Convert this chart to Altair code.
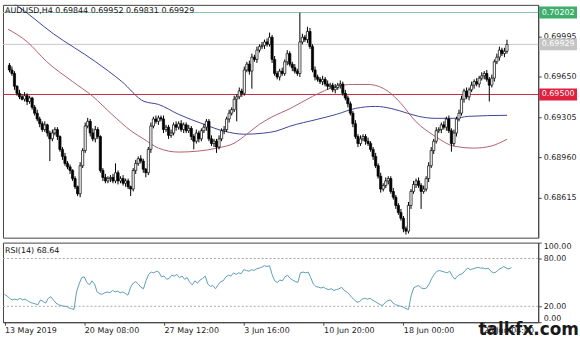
import altair as alt
import pandas as pd

# ---------------- data ----------------
closes = [
    0.6971, 0.6968, 0.6957, 0.6951, 0.6948, 0.6946, 0.6949, 0.6944, 0.6947, 0.6939,
    0.6934, 0.6929, 0.6925, 0.6920, 0.6924, 0.6917, 0.6912, 0.6917, 0.6920, 0.6914,
    0.6903, 0.6897, 0.6891, 0.6888, 0.6885, 0.6878, 0.6871, 0.6865, 0.6889, 0.6902,
    0.6923, 0.6927, 0.6917, 0.6912, 0.6920, 0.6914, 0.6885, 0.6879, 0.6876, 0.6878,
    0.6879, 0.6876, 0.6883, 0.6876, 0.6878, 0.6874, 0.6876, 0.6871, 0.6869, 0.6885,
    0.6891, 0.6895, 0.6893, 0.6886, 0.6883, 0.6903, 0.6923, 0.6929, 0.6927, 0.6930,
    0.6929, 0.6920, 0.6922, 0.6915, 0.6917, 0.6924, 0.6922, 0.6925, 0.6920, 0.6924,
    0.6919, 0.6921, 0.6914, 0.6910, 0.6917, 0.6912, 0.6919, 0.6922, 0.6927, 0.6912,
    0.6908, 0.6910, 0.6905, 0.6912, 0.6919, 0.6920, 0.6929, 0.6934, 0.6937, 0.6946,
    0.6948, 0.6953, 0.6951, 0.6971, 0.6976, 0.6970, 0.6982, 0.6980, 0.6988, 0.6991,
    0.6992, 0.6995, 0.6993, 0.6999, 0.6980, 0.6968, 0.6965, 0.6970, 0.6968, 0.6978,
    0.6985, 0.6976, 0.6973, 0.6970, 0.6968, 0.6995, 0.6999, 0.6997, 0.7004, 0.6991,
    0.6971, 0.6965, 0.6963, 0.6961, 0.6963, 0.6959, 0.6957, 0.6958, 0.6954, 0.6956,
    0.6958, 0.6959, 0.6951, 0.6947, 0.6942, 0.6934, 0.6925, 0.6914, 0.6908, 0.6912,
    0.6914, 0.6910, 0.6908, 0.6903, 0.6897, 0.6889, 0.6880, 0.6869, 0.6872, 0.6876,
    0.6878, 0.6867, 0.6862, 0.6855, 0.6849, 0.6844, 0.6835, 0.6833, 0.6855, 0.6867,
    0.6873, 0.6876, 0.6872, 0.6867, 0.6869, 0.6878, 0.6889, 0.6902, 0.6910, 0.6919,
    0.6920, 0.6924, 0.6922, 0.6929, 0.6919, 0.6908, 0.6917, 0.6929, 0.6934, 0.6946,
    0.6953, 0.6948, 0.6954, 0.6958, 0.6961, 0.6959, 0.6964, 0.6966, 0.6968, 0.6963,
    0.6958, 0.6964, 0.6978, 0.6982, 0.6988, 0.6985, 0.6987, 0.69929,
]
first_open = 0.6975

# wick lengths in pips (0.0001)
wick_up = [
    2, 3, 2, 1, 3, 2, 3, 2, 2, 1, 2, 3, 2, 2, 3, 1, 2, 3, 2, 2,
    1, 2, 3, 2, 2, 1, 2, 1, 3, 2, 3, 3, 2, 4, 3, 2, 1, 2, 3, 2,
    2, 3, 8, 2, 2, 3, 2, 2, 1, 2, 3, 2, 3, 2, 1, 2, 3, 2, 3, 2,
    2, 3, 2, 2, 3, 2, 3, 2, 3, 2, 2, 3, 2, 2, 3, 2, 2, 3, 2, 2,
    3, 2, 2, 3, 2, 3, 2, 3, 2, 3, 2, 3, 2, 3, 2, 3, 3, 2, 3, 2,
    3, 2, 3, 4, 2, 3, 2, 2, 3, 2, 3, 2, 2, 3, 2, 25, 3, 2, 4, 3,
    2, 3, 2, 2, 3, 2, 3, 2, 2, 3, 2, 3, 2, 3, 2, 2, 2, 3, 2, 3,
    2, 2, 3, 2, 2, 3, 2, 3, 2, 3, 2, 2, 3, 2, 2, 3, 2, 2, 3, 2,
    3, 2, 3, 2, 3, 2, 3, 3, 2, 3, 2, 2, 3, 2, 3, 2, 3, 2, 3, 3,
    2, 3, 2, 3, 2, 3, 2, 3, 2, 3, 2, 3, 2, 3, 3, 2, 3, 4,
]
wick_dn = [
    2, 2, 3, 2, 2, 1, 2, 3, 2, 2, 2, 2, 3, 2, 2, 3, 19, 2, 2, 3,
    2, 3, 2, 2, 3, 2, 2, 2, 3, 2, 2, 2, 3, 2, 3, 2, 2, 3, 2, 2,
    3, 2, 2, 3, 2, 2, 3, 2, 6, 2, 3, 2, 2, 3, 4, 2, 3, 2, 2, 3,
    2, 3, 2, 3, 2, 2, 3, 2, 2, 3, 2, 2, 3, 7, 2, 3, 2, 2, 3, 2,
    2, 3, 5, 2, 2, 3, 2, 3, 2, 2, 19, 2, 3, 2, 2, 3, 15, 2, 3, 2,
    2, 3, 2, 2, 3, 2, 2, 3, 2, 2, 3, 2, 3, 2, 2, 3, 2, 2, 3, 2,
    2, 3, 2, 2, 3, 2, 3, 2, 2, 3, 2, 3, 2, 2, 3, 2, 3, 2, 3, 2,
    2, 3, 2, 2, 3, 2, 2, 3, 2, 2, 3, 2, 2, 3, 2, 2, 3, 3, 2, 3,
    2, 3, 2, 15, 2, 2, 3, 2, 3, 2, 2, 3, 2, 3, 2, 7, 2, 3, 2, 2,
    3, 2, 3, 2, 3, 2, 3, 2, 3, 2, 14, 2, 3, 2, 3, 2, 3, 2,
]

rsi_values = [
    35, 33, 30, 28, 29, 28, 30, 28, 29, 27, 25, 24, 23, 22, 28, 26, 24, 30, 32, 28,
    24, 22, 21, 20, 20, 18, 17, 16, 38, 48, 56, 57, 50, 47, 52, 48, 38, 36, 35, 37,
    38, 37, 40, 38, 39, 37, 38, 36, 34, 44, 49, 51, 48, 44, 42, 52, 60, 63, 62, 64,
    63, 57, 58, 54, 55, 59, 58, 60, 56, 58, 54, 56, 50, 47, 52, 49, 53, 55, 58, 48,
    45, 46, 42, 47, 51, 52, 57, 59, 58, 62, 60, 62, 61, 66, 65, 64, 66, 65, 67, 68,
    69, 71, 70, 71, 60, 52, 50, 53, 52, 57, 59, 55, 53, 51, 50, 62, 63, 62, 63, 56,
    48, 45, 44, 43, 44, 42, 41, 42, 40, 41, 42, 44, 40, 38, 35, 31, 28, 25, 26, 29,
    30, 29, 30, 28, 26, 24, 22, 21, 25, 27, 28, 24, 22, 21, 20, 19, 17, 16, 33, 43,
    45, 46, 43, 42, 43, 48, 55, 60, 64, 65, 64, 63, 62, 64, 58, 54, 58, 60, 61, 65,
    68, 66, 67, 68, 69, 68, 68, 67, 68, 64, 62, 63, 66, 68, 70, 68, 67, 68.64,
]

blue_idx = [0, 2.3, 17.4, 34, 44.5, 53.3, 59, 67, 77, 85, 93, 100.5, 105.5, 111,
            122, 129.5, 137, 145, 151, 157.7, 162, 168.5, 176, 181.7, 197]
blue_val = [0.7030, 0.7027, 0.7002, 0.69782, 0.69611, 0.69441, 0.69415, 0.6933,
            0.69245, 0.69186, 0.6916, 0.69169, 0.69186, 0.69228, 0.69288, 0.6933,
            0.69381, 0.69398, 0.69381, 0.69339, 0.69313, 0.69296, 0.69296, 0.69313,
            0.69322]
red_idx = [-0.6, 7, 14.7, 25, 33, 40.6, 48.3, 53.3, 59, 67, 74.6, 82.3, 89, 94, 99,
           104.4, 111.3, 120, 129.5, 135.7, 142, 150, 155, 160.8, 168.5, 176, 184,
           190.6, 197]
red_val = [0.7006, 0.69952, 0.69782, 0.69611, 0.69484, 0.6933, 0.69186, 0.69117,
           0.69041, 0.69007, 0.69015, 0.69041, 0.69083, 0.6916, 0.69245, 0.69313,
           0.69381, 0.69484, 0.69569, 0.69586, 0.69586, 0.69526, 0.69424, 0.69271,
           0.69143, 0.69058, 0.69041, 0.69058, 0.69117]

level_prices = [0.70202, 0.69929, 0.69500]
level_kinds = ["high", "bid", "level"]

price_ticks = [0.68615, 0.68960, 0.69305, 0.69650, 0.69995]
rsi_ticks = [0, 20, 80, 100]
rsi_levels = [20, 80]

time_tick_idx = [0, 31, 62, 93, 124, 155, 186]
time_tick_labels = ["13 May 2019", "20 May 08:00", "27 May 12:00", "3 Jun 16:00",
                    "10 Jun 20:00", "18 Jun 00:00", "25 Jun 04:00"]

header = "AUDUSD,H4  0.69844 0.69952 0.69831 0.69929"
rsi_title = "RSI(14) 68.64"

# ---------------- tables ----------------
opens = [first_open] + closes[:-1]
n = len(closes)
candles = pd.DataFrame({
    "i": list(range(n)),
    "open": opens,
    "close": closes,
})
candles["high"] = [max(o, c) + u * 0.0001 for o, c, u in zip(opens, closes, wick_up)]
candles["low"] = [min(o, c) - d * 0.0001 for o, c, d in zip(opens, closes, wick_dn)]
candles["dir"] = ["up" if c >= o else "down" for o, c in zip(opens, closes)]

rsi_df = pd.DataFrame({"i": list(range(n)), "rsi": rsi_values})
blue_df = pd.DataFrame({"i": blue_idx, "v": blue_val})
red_df = pd.DataFrame({"i": red_idx, "v": red_val})
levels_df = pd.DataFrame({"p": level_prices, "kind": level_kinds,
                          "txt": [f"{p:.5f}" for p in level_prices]})
rsi_lv_df = pd.DataFrame({"r": rsi_levels})

FONT = "DejaVu Sans"
W = 538
H_MAIN = 234
H_RSI = 80

xscale = alt.Scale(domain=[-0.58, 207.4], nice=False, zero=False)
yscale = alt.Scale(domain=[0.682742, 0.702676], nice=False, zero=False)

yaxis = alt.Axis(orient="right", values=price_ticks, format=".5f", title=None,
                 labelFont=FONT, labelFontSize=8, labelColor="#222",
                 tickColor="#444", tickSize=3, domainColor="#444", labelPadding=2,
                 grid=False)


def X(field="i"):
    return alt.X(f"{field}:Q", scale=xscale, axis=None)


def Y(field):
    return alt.Y(f"{field}:Q", scale=yscale, axis=yaxis)


kind_color = alt.Scale(domain=["high", "bid", "level"],
                       range=["#8fbfae", "#c9c9c9", "#cc2b41"])
box_color = alt.Scale(domain=["high", "bid", "level"],
                      range=["#3dae6c", "#c4c4c4", "#e0203c"])

base_c = alt.Chart(candles)

hlines = alt.Chart(levels_df).mark_rule(strokeWidth=1).encode(
    y=Y("p"),
    color=alt.Color("kind:N", scale=kind_color, legend=None),
)

blue_line = alt.Chart(blue_df).mark_line(color="#3c4597", strokeWidth=1,
                                         interpolate="monotone", clip=True).encode(
    x=X(), y=Y("v"))
red_line = alt.Chart(red_df).mark_line(color="#b4606e", strokeWidth=1,
                                       interpolate="monotone", clip=True).encode(
    x=X(), y=Y("v"))

wicks = base_c.mark_rule(color="#000", strokeWidth=1, clip=True).encode(
    x=X(), y=Y("low"), y2="high:Q")
bodies = base_c.mark_bar(size=2.2, stroke="#000", strokeWidth=0.7, clip=True).encode(
    x=X(), y=Y("open"), y2="close:Q",
    fill=alt.Fill("dir:N", scale=alt.Scale(domain=["up", "down"], range=["#ffffff", "#000000"]),
                  legend=None),
)

boxes = alt.Chart(levels_df).mark_rect(yOffset=-6, y2Offset=6).encode(
    x=alt.value(539), x2=alt.value(577),
    y=Y("p"), y2="p:Q",
    color=alt.Color("kind:N", scale=box_color, legend=None),
)
box_txt = alt.Chart(levels_df).mark_text(font=FONT, fontSize=8, color="white",
                                         align="center", baseline="middle").encode(
    x=alt.value(558), y=Y("p"), text="txt:N")

head_txt = alt.Chart(pd.DataFrame({"t": [header]})).mark_text(
    font=FONT, fontSize=8, color="#111", align="left", baseline="middle").encode(
    x=alt.value(2), y=alt.value(6), text="t:N")

main = alt.layer(hlines, blue_line, red_line, wicks, bodies, boxes, box_txt,
                 head_txt).resolve_scale(color="independent").properties(
    width=W, height=H_MAIN)

# ---------------- RSI panel ----------------
rx = alt.X("i:Q", scale=xscale,
           axis=alt.Axis(values=time_tick_idx, title=None, grid=False,
                         labelExpr="[" + ",".join(f"'{t}'" for t in time_tick_labels)
                         + "][indexof([" + ",".join(str(v) for v in time_tick_idx)
                         + "], datum.value)]",
                         labelAlign="left", labelFont=FONT, labelFontSize=8,
                         labelColor="#222", tickColor="#444", tickSize=3,
                         domainColor="#444", labelPadding=1, labelFlush=False))
ryaxis = alt.Axis(orient="right", values=rsi_ticks, format=".2f", title=None,
                  labelFont=FONT, labelFontSize=8, labelColor="#222",
                  tickColor="#444", tickSize=3, domainColor="#444",
                  labelPadding=2, labelFlush=True, grid=False)
ryscale = alt.Scale(domain=[0, 100], nice=False, zero=False)

rsi_grid = alt.Chart(rsi_lv_df).mark_rule(color="#a8a8a8", strokeDash=[2, 2],
                                          strokeWidth=1).encode(
    y=alt.Y("r:Q", scale=ryscale, axis=ryaxis))
rsi_line = alt.Chart(rsi_df).mark_line(color="#5d9db8", strokeWidth=1).encode(
    x=rx, y=alt.Y("rsi:Q", scale=ryscale, axis=ryaxis))
rsi_lbl = alt.Chart(pd.DataFrame({"t": [rsi_title]})).mark_text(
    font=FONT, fontSize=8, color="#111", align="left", baseline="middle").encode(
    x=alt.value(2), y=alt.value(8), text="t:N")
wm = alt.Chart(pd.DataFrame({"t": ["talkfx.com"]})).mark_text(
    font=FONT, fontSize=17, fontWeight="bold", color="#1a1a1a", align="left",
    baseline="alphabetic").encode(x=alt.value(478), y=alt.value(93), text="t:N")

rsi = alt.layer(rsi_grid, rsi_line, rsi_lbl, wm).properties(width=W, height=H_RSI)

chart = alt.vconcat(main, rsi, spacing=3).properties(
    padding={"left": 2, "top": 3, "right": 0, "bottom": 0},
    background="white",
).configure_view(stroke="#444", strokeWidth=1)

chart.save("out.html", embed_options={"renderer": "svg", "actions": False})
